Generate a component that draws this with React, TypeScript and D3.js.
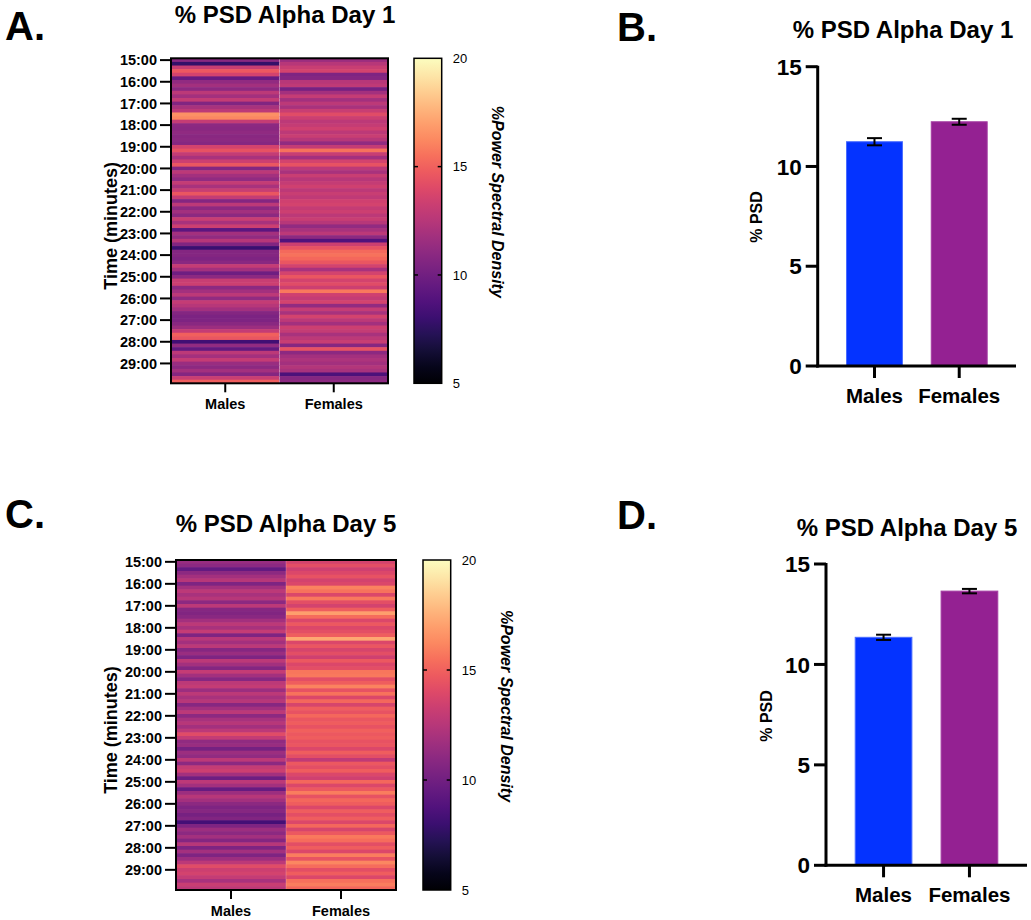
import * as d3 from "d3";

const groups = ["Males", "Females"];
const minuteLabels = [
  "15:00", "16:00", "17:00", "18:00", "19:00", "20:00", "21:00", "22:00",
  "23:00", "24:00", "25:00", "26:00", "27:00", "28:00", "29:00",
];
const colorTicks = [5, 10, 15, 20];
const psdTicks = [0, 5, 10, 15];

// %PSD per 10 s bin, 15:00 -> 30:00
const day1Males = [
  10.9, 7.8, 13.2, 14.7, 13.6, 9.6,
  11.2, 11.8, 11.0, 12.7, 11.8, 13.0,
  10.6, 12.0, 12.7, 16.5, 16.2, 13.0,
  11.0, 10.9, 11.1, 10.9, 11.0, 10.8,
  13.6, 14.4, 13.0, 12.0, 13.3, 14.6,
  10.7, 12.7, 11.8, 11.2, 13.0, 12.0,
  13.2, 14.6, 13.0, 10.7, 12.7, 11.0,
  11.8, 11.0, 13.2, 12.0, 13.3, 9.2,
  11.8, 11.2, 12.5, 10.6, 8.0, 10.7,
  10.7, 10.5, 10.9, 13.0, 11.8, 9.9,
  11.0, 13.2, 13.3, 11.0, 11.8, 12.7,
  11.2, 13.0, 12.5, 11.8, 10.7, 10.4,
  10.5, 10.9, 11.6, 13.0, 15.0, 14.6,
  8.2, 11.2, 9.4, 12.7, 11.8, 13.0,
  11.5, 11.0, 11.8, 10.7, 13.2, 14.9,
];
const day1Females = [
  11.6, 12.5, 13.2, 13.6, 10.5, 10.7,
  12.5, 12.8, 10.2, 11.8, 13.0, 11.8,
  12.7, 12.0, 13.2, 14.1, 13.3, 12.7,
  13.0, 13.4, 12.7, 13.2, 12.5, 11.2,
  13.0, 15.6, 13.2, 11.8, 13.6, 14.4,
  12.7, 12.0, 13.2, 12.5, 13.0, 13.4,
  12.7, 13.2, 12.8, 13.4, 13.6, 13.0,
  13.3, 12.7, 13.2, 12.5, 11.2, 12.0,
  12.7, 11.0, 8.8, 13.3, 14.4, 15.3,
  15.6, 15.2, 14.6, 13.6, 12.0, 13.6,
  14.6, 13.6, 14.1, 13.3, 15.8, 13.4,
  13.0, 13.6, 11.2, 13.0, 12.0, 13.6,
  12.7, 11.8, 13.3, 13.0, 12.0, 12.7,
  13.2, 10.8, 14.4, 11.0, 11.8, 12.2,
  11.8, 12.4, 12.0, 8.6, 10.7, 11.0,
];
const day5Males = [
  11.4, 11.0, 9.5, 11.0, 11.8, 12.5,
  10.5, 11.8, 12.7, 12.0, 12.5, 11.0,
  12.7, 10.8, 10.6, 10.9, 11.8, 12.7,
  12.0, 13.0, 10.5, 12.5, 11.8, 12.7,
  10.8, 11.5, 10.5, 12.7, 11.8, 10.7,
  13.0, 11.8, 10.8, 12.7, 13.0, 11.6,
  12.7, 12.0, 12.5, 10.8, 11.8, 12.7,
  11.0, 12.0, 12.5, 11.8, 12.7, 14.1,
  13.0, 11.2, 11.5, 10.2, 11.6, 11.2,
  12.7, 11.0, 13.0, 13.3, 11.8, 9.9,
  12.7, 11.8, 9.6, 11.6, 12.5, 11.8,
  11.0, 10.5, 10.8, 10.2, 10.6, 8.3,
  10.5, 11.6, 11.0, 11.8, 10.7, 12.5,
  10.5, 11.8, 10.5, 11.6, 12.7, 14.1,
  13.3, 13.6, 13.0, 12.0, 13.2, 12.7,
];
const day5Females = [
  13.6, 14.2, 13.4, 13.9, 14.4, 13.6,
  13.9, 16.1, 15.6, 13.9, 15.8, 14.2,
  13.6, 14.9, 17.0, 15.4, 13.9, 14.7,
  13.9, 14.2, 14.9, 17.2, 13.9, 14.6,
  13.7, 14.2, 13.4, 14.7, 13.9, 14.2,
  15.7, 15.8, 14.2, 14.9, 16.1, 14.4,
  15.6, 13.9, 15.2, 13.7, 14.9, 14.4,
  15.2, 14.6, 14.9, 14.4, 15.0, 14.7,
  14.9, 14.4, 14.6, 13.9, 14.9, 14.2,
  12.9, 14.7, 14.2, 14.9, 13.9, 13.4,
  15.2, 13.9, 14.7, 15.9, 14.4, 15.2,
  14.9, 13.9, 14.9, 14.2, 14.9, 13.9,
  15.2, 13.7, 14.7, 15.8, 15.4, 14.2,
  14.9, 13.9, 15.9, 14.4, 16.2, 15.4,
  14.2, 14.9, 13.9, 15.5, 15.9, 15.2,
];

// bar summaries (mean, sem)
const day1Means = [11.24, 12.24];
const day1Sem = [0.18, 0.15];
const day5Means = [11.35, 13.65];
const day5Sem = [0.13, 0.11];

const font = "'Liberation Sans', Arial, Helvetica, sans-serif";
const barColors = ["#0433FF", "#942192"];
const barEdges = ["#4a6cff", "#a43ea2"];

interface Box { left: number; right: number; top: number; bottom: number }

interface HeatmapProps {
  id: string;
  letter: string;
  letterY: number;
  title: string;
  titleX: number;
  titleY: number;
  males: number[];
  females: number[];
  box: Box;
  cbLeft: number;
  cbRight: number;
}

function Heatmap({ id, letter, letterY, title, titleX, titleY, males, females, box, cbLeft, cbRight }: HeatmapProps) {
  const rows = d3.range(males.length);
  const y = d3.scaleBand<number>().domain(rows).range([box.top, box.bottom]);
  const x = d3.scaleBand<string>().domain(groups).range([box.left, box.right]);
  const color = d3.scaleSequential(d3.interpolateMagma).domain([5, 20]);
  const cbY = d3.scaleLinear().domain([5, 20]).range([box.bottom, box.top]);
  const cols = [males, females];
  const midY = (box.top + box.bottom) / 2;
  const stops = d3.range(0, 1.0001, 0.05);

  return (
    <g>
      <text x={5} y={letterY} fontSize={40} fontWeight="bold" fontFamily={font}>{letter}</text>
      <text x={titleX} y={titleY} fontSize={24} fontWeight="bold" fontFamily={font} textAnchor="middle">{title}</text>

      {cols.map((vals, c) =>
        vals.map((v, i) => (
          <rect
            key={`${c}-${i}`}
            x={x(groups[c])!}
            y={y(i)!}
            width={x.bandwidth()}
            height={y.bandwidth() + 0.6}
            fill={color(v)}
          />
        ))
      )}
      {/* faint seam between the two columns */}
      <line x1={x("Females")!} x2={x("Females")!} y1={box.top} y2={box.bottom}
        stroke="#fff" strokeOpacity={0.2} strokeWidth={1} />
      <rect x={box.left} y={box.top} width={box.right - box.left} height={box.bottom - box.top}
        fill="none" stroke="#000" strokeWidth={2} />

      {/* minute ticks */}
      {minuteLabels.map((lab, i) => {
        const ty = y(i * 6)! + y.bandwidth() / 2;
        return (
          <g key={lab}>
            <line x1={box.left - 11} x2={box.left} y1={ty} y2={ty} stroke="#000" strokeWidth={2} />
            <text x={box.left - 14} y={ty} dy="0.35em" textAnchor="end" fontSize={14.5}
              fontWeight="bold" fontFamily={font}>{lab}</text>
          </g>
        );
      })}
      <text transform={`translate(117,${midY + 5}) rotate(-90)`} textAnchor="middle" fontSize={18}
        fontWeight="bold" fontFamily={font}>Time (minutes)</text>

      {groups.map((g) => {
        const cx = x(g)! + x.bandwidth() / 2;
        return (
          <g key={g}>
            <line x1={cx} x2={cx} y1={box.bottom} y2={box.bottom + 9} stroke="#000" strokeWidth={2} />
            <text x={cx} y={box.bottom + 26} textAnchor="middle" fontSize={14.5} fontWeight="bold"
              fontFamily={font}>{g}</text>
          </g>
        );
      })}

      {/* colour bar */}
      <defs>
        <linearGradient id={id} x1="0" x2="0" y1="1" y2="0">
          {stops.map((t) => (
            <stop key={t} offset={t} stopColor={d3.interpolateMagma(t)} />
          ))}
        </linearGradient>
      </defs>
      <rect x={cbLeft} y={box.top} width={cbRight - cbLeft} height={box.bottom - box.top}
        fill={`url(#${id})`} stroke="#000" strokeWidth={1.5} />
      {colorTicks.map((t) => (
        <g key={t}>
          {t > 5 && t < 20 && (
            <>
              <line x1={cbLeft} x2={cbLeft + 4} y1={cbY(t)} y2={cbY(t)} stroke="#000" strokeWidth={1.5} />
              <line x1={cbRight - 4} x2={cbRight} y1={cbY(t)} y2={cbY(t)} stroke="#000" strokeWidth={1.5} />
            </>
          )}
          <text x={cbRight + 11} y={cbY(t)} dy="0.35em" fontSize={13} fontFamily={font}>{t}</text>
        </g>
      ))}
      <text transform={`translate(${cbRight + 50},${midY - 19}) rotate(90)`} textAnchor="middle"
        fontSize={16} fontWeight="bold" fontStyle="italic" fontFamily={font}>%Power Spectral Density</text>
    </g>
  );
}

interface BarProps {
  letter: string;
  letterY: number;
  title: string;
  titleX: number;
  titleY: number;
  means: number[];
  sems: number[];
  axisX: number;
  axisEnd: number;
  top: number;
  bottom: number;
  labelX: number;
  labelY: number;
}

function BarPanel({ letter, letterY, title, titleX, titleY, means, sems, axisX, axisEnd, top, bottom, labelX, labelY }: BarProps) {
  const y = d3.scaleLinear().domain([0, 15]).range([bottom, top]);
  const x = d3.scaleBand<string>().domain(groups).range([axisX, axisEnd]).paddingInner(0.34).paddingOuter(0.34);

  return (
    <g fontFamily={font} fontWeight="bold">
      <text x={617} y={letterY} fontSize={40}>{letter}</text>
      <text x={titleX} y={titleY} fontSize={24} textAnchor="middle">{title}</text>

      {groups.map((g, i) => {
        const cx = x(g)! + x.bandwidth() / 2;
        const hi = y(means[i] + sems[i]);
        const lo = y(means[i] - sems[i]);
        return (
          <g key={g}>
            <rect x={x(g)!} y={y(means[i])} width={x.bandwidth()} height={y(0) - y(means[i])}
              fill={barColors[i]} stroke={barEdges[i]} strokeWidth={1} />
            <line x1={cx} x2={cx} y1={hi} y2={lo} stroke="#000" strokeWidth={2} />
            <line x1={cx - 7.5} x2={cx + 7.5} y1={hi} y2={hi} stroke="#000" strokeWidth={2} />
            <line x1={cx - 7.5} x2={cx + 7.5} y1={lo} y2={lo} stroke="#000" strokeWidth={2} />
            <line x1={cx} x2={cx} y1={bottom} y2={bottom + 12} stroke="#000" strokeWidth={3} />
            <text x={cx} y={bottom + 37} fontSize={20.5} textAnchor="middle">{g}</text>
          </g>
        );
      })}

      <line x1={axisX} x2={axisX} y1={top - 1} y2={bottom + 1.5} stroke="#000" strokeWidth={3} />
      <line x1={axisX - 1.5} x2={axisEnd} y1={bottom} y2={bottom} stroke="#000" strokeWidth={3} />
      {psdTicks.map((t) => (
        <g key={t}>
          <line x1={axisX - 12} x2={axisX} y1={y(t)} y2={y(t)} stroke="#000" strokeWidth={3} />
          <text x={axisX - 16} y={y(t)} dy="0.36em" fontSize={22.5} textAnchor="end">{t}</text>
        </g>
      ))}
      <text transform={`translate(${labelX},${labelY}) rotate(-90)`} fontSize={16} textAnchor="middle">% PSD</text>
    </g>
  );
}

export default function App() {
  return (
    <svg width={1031} height={920} viewBox="0 0 1031 920"
      style={{ position: "absolute", left: 0, top: 0, background: "#fff" }}>
      <rect width={1031} height={920} fill="#fff" />
      <Heatmap id="cbA" letter="A." letterY={40} title="% PSD Alpha Day 1" titleX={285} titleY={23}
        males={day1Males} females={day1Females}
        box={{ left: 171, right: 388, top: 58.3, bottom: 383.3 }} cbLeft={414} cbRight={441.7} />
      <Heatmap id="cbC" letter="C." letterY={528} title="% PSD Alpha Day 5" titleX={286} titleY={532}
        males={day5Males} females={day5Females}
        box={{ left: 176, right: 396, top: 560, bottom: 890 }} cbLeft={423} cbRight={450.7} />
      <BarPanel letter="B." letterY={41} title="% PSD Alpha Day 1" titleX={903} titleY={38}
        means={day1Means} sems={day1Sem} axisX={817.7} axisEnd={1016} top={66.7} bottom={366}
        labelX={762} labelY={217} />
      <BarPanel letter="D." letterY={529} title="% PSD Alpha Day 5" titleX={907} titleY={536}
        means={day5Means} sems={day5Sem} axisX={826} axisEnd={1027} top={564} bottom={865.3}
        labelX={772} labelY={716} />
    </svg>
  );
}
